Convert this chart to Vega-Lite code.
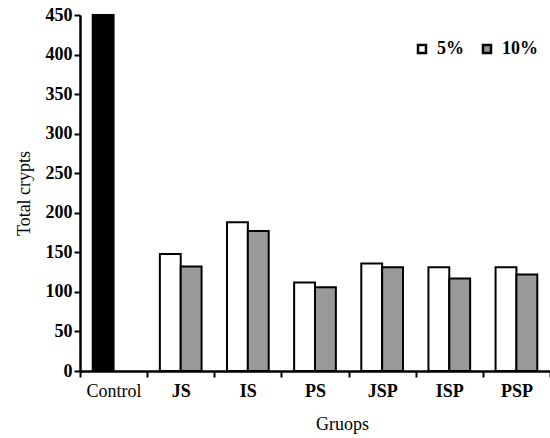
{
  "$schema": "https://vega.github.io/schema/vega-lite/v6.json",
  "width": 470,
  "height": 356,
  "autosize": "none",
  "padding": {"left": 80, "top": 15, "right": 0, "bottom": 67},
  "background": "white",
  "config": {
    "view": {"stroke": null},
    "font": "Liberation Serif",
    "axisX": {"ticks": true, "tickColor": "black", "tickSize": 6, "tickWidth": 2, "tickOpacity": 1}
  },
  "data": {
    "values": [
      {"group": "Control", "conc": "5%", "value": 450},
      {"group": "JS", "conc": "5%", "value": 148},
      {"group": "JS", "conc": "10%", "value": 132},
      {"group": "IS", "conc": "5%", "value": 188},
      {"group": "IS", "conc": "10%", "value": 177},
      {"group": "PS", "conc": "5%", "value": 112},
      {"group": "PS", "conc": "10%", "value": 106},
      {"group": "JSP", "conc": "5%", "value": 136},
      {"group": "JSP", "conc": "10%", "value": 131},
      {"group": "ISP", "conc": "5%", "value": 131},
      {"group": "ISP", "conc": "10%", "value": 117},
      {"group": "PSP", "conc": "5%", "value": 131},
      {"group": "PSP", "conc": "10%", "value": 122}
    ]
  },
  "mark": {"type": "bar", "stroke": "black", "strokeWidth": 2},
  "encoding": {
    "x": {
      "field": "group",
      "type": "nominal",
      "sort": ["Control", "JS", "IS", "PS", "JSP", "ISP", "PSP"],
      "scale": {"paddingInner": 0, "paddingOuter": 0},
      "axis": {
        "title": "Gruops",
        "titleFontSize": 18,
        "titleFontWeight": "normal",
        "titleX": 262,
        "titlePadding": 15,
        "labelAngle": 0,
        "labelFontSize": 18,
        "labelFontWeight": {"condition": {"test": "datum.value === 'Control'", "value": "normal"}, "value": "bold"},
        "labelColor": "black",
        "labelPadding": 5,
        "tickBand": "extent",
        "domainColor": "black",
        "domainWidth": 2.5
      }
    },
    "xOffset": {
      "field": "conc",
      "type": "nominal",
      "sort": ["5%", "10%"],
      "scale": {"paddingInner": 0, "paddingOuter": 0.61}
    },
    "y": {
      "field": "value",
      "type": "quantitative",
      "scale": {"domain": [0, 450], "nice": false},
      "axis": {
        "title": "Total crypts",
        "titleFontSize": 18,
        "titleFontWeight": "normal",
        "titlePadding": 12,
        "values": [0, 50, 100, 150, 200, 250, 300, 350, 400, 450],
        "grid": false,
        "labelFontSize": 18,
        "labelFontWeight": "bold",
        "labelColor": "black",
        "labelPadding": 2,
        "domainColor": "black",
        "domainWidth": 2.5,
        "tickColor": "black",
        "tickWidth": 2,
        "tickSize": 6
      }
    },
    "fill": {
      "condition": {"test": "datum.group === 'Control'", "value": "black"},
      "field": "conc",
      "type": "nominal",
      "scale": {"domain": ["5%", "10%"], "range": ["white", "#999999"]},
      "legend": {
        "title": null,
        "orient": "none",
        "legendX": 333,
        "legendY": 25,
        "direction": "horizontal",
        "symbolType": "square",
        "symbolSize": 64,
        "symbolStrokeColor": "black",
        "symbolStrokeWidth": 2.5,
        "labelFontSize": 18,
        "labelFontWeight": "bold",
        "labelColor": "black",
        "labelOffset": 6,
        "columnPadding": 14
      }
    }
  }
}
